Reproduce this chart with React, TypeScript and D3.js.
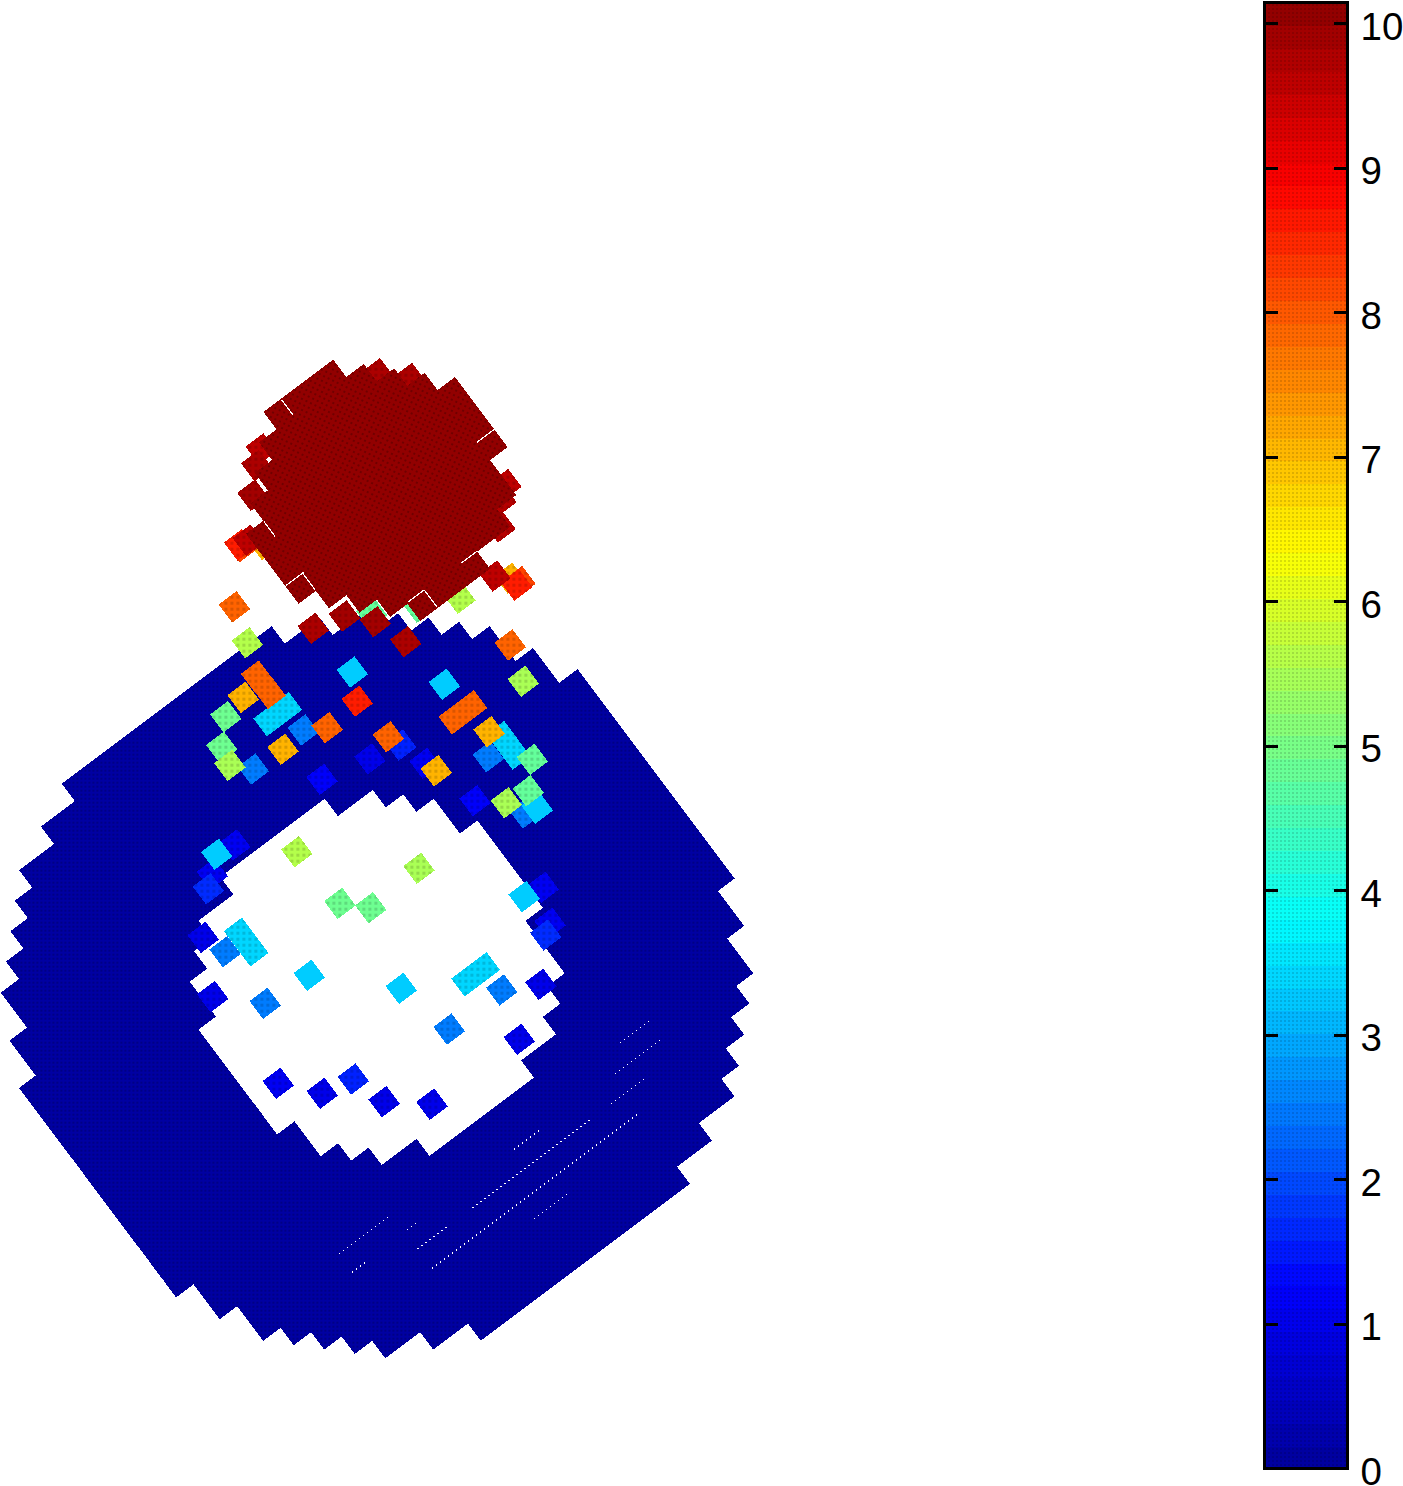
import React from 'react';
import * as d3 from 'd3';

// grid cells per row of the big ring
const ringStart = [9.95, 8, 6, 5, 4, 3, 1.95, 1.95, 0.95, 0.95, 0, 0, 0, 0, 0, 0, 0, 0, 0, 0, 0, 0, 1, 1, 2, 2, 3, 4, 5, 6, 8, 10];
const ringEnd = [22, 24, 26, 27, 28, 29, 30, 30, 31, 31, 32.05, 32.05, 32.05, 32.05, 32.05, 32.05, 32.05, 32.05, 32.05, 32.05, 32.05, 32.05, 31.1, 31.1, 30.12, 30.12, 29.15, 28.1, 27.05, 26.05, 24, 22];

// hole in the ring, first row is 8
const holeStart = [13, 11, 10, 9, 9, 8, 8, 8, 8, 8, 8, 9, 9, 10, 11, 13];
const holeEnd = [19, 21, 22, 23, 23, 24, 24, 24, 24, 24, 23, 23, 23, 22, 21, 19];

// the dark red disc on top, first row is -8.1
const discStart = [27.6, 26.6, 25.6, 24.6, 23.6, 23.6, 23.6, 23.6, 24.6, 25.6, 26.6, 27.6];
const discEnd = [31.6, 32.6, 33.6, 34.6, 35.6, 35.6, 35.6, 35.6, 34.6, 34.6, 33.5, 31.6];

// scattered single cells
const cellU = [
  21.16, 20.65, 23.47, 24.95, 25.93, 26.5, 29.68, 30.24, 29.72, 23.7, 26.74, 23.07, 20.07, 20.09, 18.99, 17.82,
  19.3, 20.3, 20.3, 21.24, 19.02, 16.83, 16.63, 17.39, 19.63, 21.95, 23.24, 23.47, 26.15, 27.15, 27.08, 26.36,
  27.41, 27.41, 27.9, 23.85, 24.06, 24.66, 25.75, 26.89, 26.74, 26.16, 26.03, 27.93, 32.13, 32.35, 32.07, 31.58,
  23.06, 23.1, 23.5, 23.97, 26.5, 25.87, 24.92, 34.5, 33.9, 33.13, 32.85, 33.9,
  14.62, 13.7, 12.99, 12.44, 16.71, 20.74, 16.87, 17.88, 24.78, 23.82, 24.04, 23.56, 10.91, 11.32, 12.36, 12.36,
  13.76, 16.78, 19.4, 20.4, 20.43, 22.02, 9.63, 11.37, 17.42, 19.71, 9.65, 10.99, 12.52, 13.03, 14.72,
];
const cellV = [
  -1.74, -0.06, 1.22, 1.63, 2.69, 4.26, 4.16, 7.26, 8.95, 3.9, 6.89, 5.11, 1.42, 2.42, 1.83, 2.06,
  3.4, 3.4, 4.68, 5.25, 4.83, 3.07, 3.96, 4.74, 7.01, 7.58, 7.27, 7.92, 8.43, 8.43, 9.86, 10.76,
  10.4, 11.4, 12.07, 9.26, 9.84, 12.01, 12.95, 13.11, 14.0, 13.84, 2.28, 3.36, 5.23, 5.2, 4.8, 4.31,
  -3.87, -3.75, -3.8, -3.21, -6.8, -6.32, -5.33, 1.25, 1.68, 2.64, -6.35, -5.3,
  7.02, 6.86, 7.47, 7.9, 8.97, 12.95, 12.06, 13.07, 17.07, 16.89, 18.58, 18.89, 9.54, 10.67, 10.4, 11.4,
  13.86, 16.87, 18.4, 18.4, 19.7, 20.57, 11.98, 13.67, 19.69, 21.99, 16.97, 18.55, 18.88, 20.56, 21.97,
];
const cellValue = [
  7.9, 5.6, 9.8, 9.9, 9.9, 9.8, 5.6, 7.9, 5.5, 3.3, 3.3, 8.6, 7.9, 7.9, 7.1, 4.9,
  3.4, 3.4, 2.5, 7.9, 7.1, 4.9, 5.5, 2.5, 1.2, 1.0, 7.9, 1.6, 7.9, 7.9, 7.1, 2.5,
  3.4, 3.4, 4.8, 1.1, 7.1, 1.2, 5.5, 4.8, 3.3, 2.5, 4.8, 4.8, 8.6, 8.2, 7.1, 9.6,
  8.6, 8.2, 9.6, 7.1, 9.6, 9.8, 9.9, 9.6, 9.7, 9.7, 9.8, 9.8,
  1.1, 3.3, 1.1, 1.7, 5.6, 5.5, 4.9, 4.9, 1.1, 3.3, 1.1, 1.7, 1.0, 2.5, 3.4, 3.4,
  3.3, 3.3, 3.4, 3.4, 2.5, 1.0, 1.0, 2.5, 2.5, 1.0, 1.1, 1.0, 1.6, 1.0, 1.0,
];

// hairline gaps in the ring: row line, from, to
const gapRow = [24.9, 25.95, 25.9, 26.9, 28, 26.9, 29, 25.9, 24.9, 25.9, 26.9];
const gapFrom = [7.2, 7.16, 10.34, 10.2, 10.2, 13.36, 15.3, 16.5, 23.3, 22.3, 21.3];
const gapTo = [10.1, 8, 11, 12, 22, 20.1, 17.3, 18, 25, 25, 23.3];

// white slits in the disc: [u0, v0, u1, v1]
const slits = [
  [28.6, -8.05, 28.6, -7.15],
  [34.6, -1.1, 35.6, -1.1],
  [24.6, -4.05, 24.6, -3.2],
  [23.65, -1.1, 24.65, -1.1],
  [24.6, -1.1, 24.6, -0.15],
  [30.7, 2.9, 31.6, 2.9],
  [28.6, 2.87, 28.6, 3.88],
  [27.7, 2.87, 28.6, 2.87],
];

const barTicks = [0, 1, 2, 3, 4, 5, 6, 7, 8, 9, 10];
const discValue = 10.15;

const PITCH = 21.78;
const CELL = 1.03; // single cells are a bit wider than the pitch
const SEAM = 0.4; // overlap so rotated rows leave no white pixels
const HOLE_U = 0.2;
const HOLE_V = -0.2;
const DISC_V = -8.1;
const ANGLE = 36.87;

const App = () => {
  const gridX = d3.scaleLinear().domain([0, 1]).range([0, PITCH]);
  const gridY = d3.scaleLinear().domain([0, 1]).range([0, PITCH]);

  const jet = d3
    .scaleLinear<string>()
    .domain([0, 0.125, 0.375, 0.625, 0.875, 1].map(d => d * discValue))
    .range(['#00009a', '#0000ff', '#00ffff', '#ffff00', '#ff0000', '#8c0000'])
    .clamp(true);

  const barY = d3.scaleLinear().domain([0, 10]).range([1468.8, 23.8]);
  const barLeft = 1264.5;
  const barRight = 1347;
  const bands = d3.range(64).map(i => i * (discValue / 64));

  const order = d3.range(cellValue.length).sort((a, b) => d3.ascending(cellValue[a], cellValue[b]));

  return (
    <svg
      width={1403}
      height={1486}
      style={{ position: 'absolute', left: 0, top: 0, display: 'block', background: '#fff' }}
      fontFamily="'Liberation Sans', Arial, sans-serif"
    >
      <defs>
        <pattern id="ringDots" width={4} height={4} patternUnits="userSpaceOnUse" patternTransform={`rotate(${ANGLE})`}>
          <rect width={4} height={4} fill="#0000a2" />
          <rect width={2} height={2} fill="#000084" />
        </pattern>
        <pattern id="discDots" width={5} height={5} patternUnits="userSpaceOnUse" patternTransform={`rotate(${ANGLE + 26})`}>
          <rect width={5} height={5} fill="#920000" />
          <rect width={2} height={2} fill="#700000" />
        </pattern>
        <pattern id="cellDots" width={6} height={6} patternUnits="userSpaceOnUse" patternTransform={`rotate(${ANGLE})`}>
          <rect width={3} height={3} fill="#000" opacity={0.14} />
        </pattern>
        <pattern id="barDots" width={4} height={4} patternUnits="userSpaceOnUse">
          <rect width={2} height={2} fill="#000" opacity={0.13} />
        </pattern>
      </defs>

      <g transform={`translate(-111.6,913.7) rotate(${-ANGLE})`} shapeRendering="crispEdges">
        {ringStart.map((s, row) => (
          <rect
            key={'ring' + row}
            x={gridX(s)}
            y={gridY(row)}
            width={gridX(ringEnd[row] - s)}
            height={gridY(1) + (row < ringStart.length - 1 ? SEAM : 0)}
            fill="url(#ringDots)"
          />
        ))}
        {holeStart.map((s, i) => (
          <rect
            key={'hole' + i}
            x={gridX(s + HOLE_U)}
            y={gridY(8 + i + HOLE_V)}
            width={gridX(holeEnd[i] - s)}
            height={gridY(1) + (i < holeStart.length - 1 ? SEAM : 0)}
            fill="#fff"
          />
        ))}
        {gapRow.map((r, i) => (
          <line
            key={'gap' + i}
            x1={gridX(gapFrom[i])}
            x2={gridX(gapTo[i])}
            y1={gridY(r)}
            y2={gridY(r)}
            stroke="#fff"
            strokeWidth={1.2}
            strokeDasharray="1.2 3.8"
          />
        ))}
        {order.map(i => (
          <g key={'cell' + i}>
            <rect
              x={gridX(cellU[i] - CELL / 2)}
              y={gridY(cellV[i] - CELL / 2)}
              width={gridX(CELL)}
              height={gridY(CELL)}
              fill={jet(cellValue[i])}
            />
            {cellValue[i] !== 3.3 && (
              <rect
                x={gridX(cellU[i] - CELL / 2)}
                y={gridY(cellV[i] - CELL / 2)}
                width={gridX(CELL)}
                height={gridY(CELL)}
                fill="url(#cellDots)"
              />
            )}
          </g>
        ))}
        {discStart.map((s, k) => (
          <rect
            key={'disc' + k}
            x={gridX(s)}
            y={gridY(DISC_V + k)}
            width={gridX(discEnd[k] - s)}
            height={gridY(1) + (k < discStart.length - 1 ? SEAM : 0)}
            fill="url(#discDots)"
          />
        ))}
        {slits.map((d, i) => (
          <line
            key={'slit' + i}
            x1={gridX(d[0])}
            y1={gridY(d[1])}
            x2={gridX(d[2])}
            y2={gridY(d[3])}
            stroke="#fff"
            strokeWidth={1.2}
          />
        ))}
      </g>

      <g shapeRendering="crispEdges">
        {bands.map(v => (
          <rect
            key={'band' + v}
            x={barLeft}
            width={barRight - barLeft}
            y={barY(v + discValue / 64)}
            height={barY(v) - barY(v + discValue / 64) + 1}
            fill={jet(v + discValue / 128)}
          />
        ))}
        <rect
          x={barLeft}
          width={barRight - barLeft}
          y={barY(discValue)}
          height={barY(0) - barY(discValue)}
          fill="url(#barDots)"
        />
        {barTicks.slice(1).map(t => (
          <g key={'tick' + t}>
            <line x1={barLeft} x2={barLeft + 13} y1={barY(t)} y2={barY(t)} stroke="#000" strokeWidth={3} />
            <line x1={barRight - 13} x2={barRight} y1={barY(t)} y2={barY(t)} stroke="#000" strokeWidth={3} />
          </g>
        ))}
        <rect
          x={barLeft}
          y={barY(discValue)}
          width={barRight - barLeft}
          height={barY(0) - barY(discValue)}
          fill="none"
          stroke="#000"
          strokeWidth={3}
        />
      </g>
      {barTicks.map(t => (
        <text key={'label' + t} x={1360.5} y={barY(t) + 15.8} fontSize={38.5} fill="#000">
          {t}
        </text>
      ))}
    </svg>
  );
};

export default App;
